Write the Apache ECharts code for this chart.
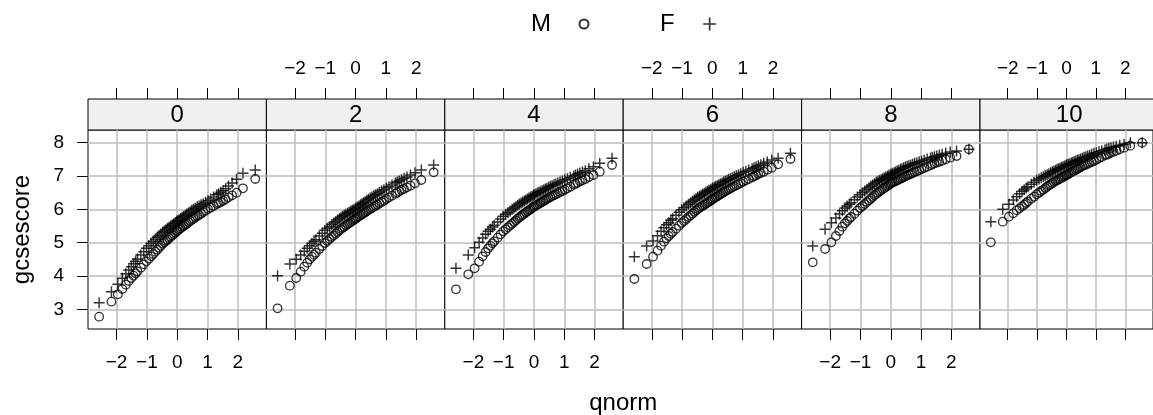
<!DOCTYPE html>
<html>
<head>
<meta charset="utf-8">
<title>gcsescore by score</title>
<script src="https://cdn.jsdelivr.net/npm/echarts@6/dist/echarts.min.js"></script>
<style>
html, body { margin: 0; padding: 0; background: #fff; }
#main { width: 1153px; height: 415px; }
</style>
</head>
<body>
<div id="main"></div>
<script>
// panels (score) and theoretical quantiles shared by every group
var scores = ['0', '2', '4', '6', '8', '10'];
var qnorm = [-2.576,-2.170,-1.960, -1.812,-1.695,-1.598,-1.514, -1.440,-1.372,-1.311,-1.200,-1.103,-1.015,
             -0.935,-0.860,-0.789,-0.722,-0.659,-0.598,-0.539, -0.482,-0.426,-0.372,-0.319,-0.266,-0.215,-0.164,-0.113,-0.063,-0.013,
             0.013,0.063,0.113,0.164,0.215,0.266,0.319,0.372,0.426,0.482, 0.539,0.598,0.659,0.722,0.789,0.860,0.935,
             1.015,1.103,1.200,1.311,1.372,1.440, 1.514,1.598,1.695,1.812, 1.960,2.170,2.576];
var xTicks = [-2, -1, 0, 1, 2];
var yTicks = [3, 4, 5, 6, 7, 8];

// gcsescore quantiles
var male0 = [2.78,3.23,3.45, 3.61,3.74,3.85,3.94, 4.01,4.08,4.14,4.25,4.35,4.44, 4.52,4.59,4.66,4.73,4.79,4.85,4.91, 4.97,5.01,5.05,5.09,5.14,5.18,5.22,5.26,5.30,5.34, 5.36,5.40,5.43,5.47,5.50,5.54,5.57,5.61,5.65,5.69, 5.72,5.76,5.80,5.83,5.87,5.92,5.96, 6.01,6.05,6.10,6.16,6.19,6.22, 6.26,6.30,6.36,6.42, 6.50,6.63,6.91];
var female0 = [3.20,3.53,3.75, 3.93,4.07,4.18,4.28, 4.37,4.44,4.51,4.63,4.73,4.83, 4.91,4.98,5.04,5.10,5.16,5.21,5.26, 5.31,5.35,5.39,5.43,5.46,5.50,5.53,5.57,5.60,5.64, 5.66,5.69,5.73,5.76,5.79,5.82,5.86,5.89,5.93,5.97, 6.00,6.03,6.07,6.10,6.14,6.17,6.21, 6.26,6.31,6.37,6.44,6.47,6.51, 6.56,6.62,6.70,6.79, 6.90,7.08,7.18];
var male2 = [3.03,3.71,3.94, 4.13,4.28,4.40,4.50, 4.58,4.64,4.70,4.81,4.90,4.99, 5.05,5.11,5.17,5.22,5.27,5.32,5.37, 5.41,5.45,5.48,5.52,5.55,5.58,5.61,5.65,5.68,5.71, 5.73,5.76,5.79,5.82,5.85,5.88,5.91,5.94,5.98,6.01, 6.04,6.08,6.11,6.14,6.18,6.22,6.26, 6.31,6.36,6.41,6.47,6.50,6.54, 6.58,6.61,6.66,6.71, 6.78,6.88,7.11];
var female2 = [4.01,4.36,4.50, 4.63,4.74,4.83,4.91, 4.98,5.04,5.09,5.20,5.28,5.37, 5.43,5.48,5.54,5.59,5.63,5.68,5.72, 5.76,5.79,5.82,5.85,5.88,5.91,5.94,5.97,5.99,6.02, 6.04,6.07,6.10,6.14,6.17,6.20,6.23,6.27,6.30,6.34, 6.37,6.41,6.44,6.47,6.51,6.55,6.59, 6.64,6.68,6.73,6.79,6.82,6.85, 6.89,6.93,6.97,7.03, 7.10,7.18,7.33];
var male4 = [3.60,4.05,4.23, 4.43,4.59,4.72,4.83, 4.91,4.98,5.04,5.15,5.25,5.34, 5.40,5.46,5.52,5.57,5.62,5.67,5.72, 5.76,5.80,5.84,5.87,5.91,5.94,5.97,6.00,6.04,6.07, 6.09,6.12,6.14,6.17,6.20,6.22,6.25,6.28,6.31,6.34, 6.37,6.40,6.42,6.45,6.48,6.52,6.55, 6.59,6.63,6.68,6.74,6.77,6.80, 6.84,6.87,6.91,6.97, 7.03,7.13,7.33];
var female4 = [4.23,4.63,4.85, 5.01,5.14,5.25,5.34, 5.40,5.47,5.52,5.62,5.71,5.79, 5.85,5.90,5.95,6.00,6.04,6.08,6.12, 6.16,6.19,6.22,6.25,6.28,6.31,6.34,6.37,6.39,6.42, 6.44,6.46,6.49,6.51,6.53,6.56,6.58,6.61,6.63,6.66, 6.69,6.71,6.74,6.76,6.79,6.82,6.85, 6.89,6.92,6.96,7.00,7.03,7.06, 7.09,7.12,7.16,7.22, 7.28,7.38,7.53];
var male6 = [3.91,4.36,4.58, 4.76,4.91,5.03,5.13, 5.20,5.27,5.32,5.42,5.51,5.59, 5.65,5.71,5.77,5.82,5.87,5.92,5.97, 6.01,6.05,6.08,6.11,6.14,6.17,6.20,6.23,6.26,6.29, 6.31,6.34,6.36,6.39,6.42,6.45,6.48,6.51,6.54,6.57, 6.60,6.63,6.66,6.69,6.72,6.75,6.79, 6.83,6.87,6.91,6.96,6.99,7.02, 7.06,7.09,7.13,7.19, 7.25,7.35,7.51];
var female6 = [4.58,4.90,5.05, 5.21,5.34,5.45,5.54, 5.60,5.67,5.72,5.82,5.91,5.99, 6.05,6.10,6.15,6.20,6.24,6.28,6.32, 6.36,6.39,6.42,6.45,6.48,6.51,6.54,6.57,6.59,6.62, 6.64,6.66,6.69,6.71,6.74,6.76,6.79,6.82,6.84,6.87, 6.90,6.92,6.95,6.98,7.01,7.04,7.07, 7.11,7.14,7.18,7.22,7.25,7.28, 7.31,7.34,7.38,7.42, 7.48,7.53,7.68];
var male8 = [4.41,4.81,5.01, 5.20,5.35,5.48,5.58, 5.65,5.72,5.77,5.87,5.96,6.04, 6.10,6.16,6.22,6.27,6.32,6.37,6.42, 6.46,6.50,6.54,6.57,6.61,6.64,6.67,6.70,6.74,6.77, 6.79,6.81,6.83,6.85,6.87,6.90,6.92,6.94,6.97,6.99, 7.02,7.04,7.06,7.09,7.12,7.14,7.17, 7.21,7.24,7.28,7.32,7.35,7.38, 7.40,7.43,7.46,7.50, 7.55,7.60,7.80];
var female8 = [4.90,5.40,5.60, 5.74,5.86,5.96,6.04, 6.10,6.15,6.20,6.29,6.37,6.44, 6.50,6.55,6.60,6.65,6.69,6.73,6.77, 6.81,6.84,6.87,6.89,6.92,6.94,6.97,6.99,7.02,7.04, 7.06,7.08,7.10,7.13,7.15,7.17,7.20,7.22,7.25,7.27, 7.29,7.31,7.33,7.35,7.38,7.40,7.43, 7.45,7.48,7.51,7.54,7.56,7.58, 7.60,7.63,7.65,7.68, 7.72,7.75,7.80];
var male10 = [5.01,5.63,5.78, 5.88,5.97,6.03,6.09, 6.14,6.19,6.24,6.32,6.38,6.45, 6.50,6.55,6.59,6.64,6.68,6.72,6.75, 6.79,6.82,6.85,6.87,6.90,6.92,6.95,6.97,7.00,7.02, 7.04,7.06,7.09,7.11,7.14,7.16,7.19,7.21,7.24,7.27, 7.30,7.32,7.34,7.37,7.40,7.42,7.45, 7.49,7.53,7.57,7.62,7.64,7.67, 7.70,7.73,7.76,7.80, 7.85,7.91,8.00];
var female10 = [5.63,6.00,6.15, 6.28,6.38,6.47,6.54, 6.59,6.64,6.68,6.75,6.81,6.87, 6.91,6.95,6.98,7.01,7.04,7.07,7.10, 7.13,7.15,7.17,7.20,7.22,7.24,7.26,7.28,7.30,7.32, 7.34,7.35,7.37,7.39,7.41,7.43,7.45,7.47,7.49,7.51, 7.53,7.56,7.58,7.60,7.62,7.65,7.68, 7.70,7.73,7.76,7.79,7.81,7.83, 7.85,7.87,7.89,7.92, 7.95,8.00,8.00];

var males = [male0, male2, male4, male6, male8, male10];
var females = [female0, female2, female4, female6, female8, female10];

var font = '"Liberation Sans", Arial, Helvetica, sans-serif';
var left0 = 88, panelW = 178.4, top0 = 130, panelH = 199, stripH = 31;
var plusPath = 'path://M8.7,0h2.6v8.7h8.7v2.6h-8.7v8.7h-2.6v-8.7h-8.7v-2.6h8.7z';

function minus(v) { return String(v).replace('-', '\u2212'); }
function pairs(ys) { return ys.map(function (y, i) { return [qnorm[i], y]; }); }

var grids = [], xAxes = [], yAxes = [], series = [], graphics = [];

scores.forEach(function (s, i) {
    var l = left0 + i * panelW;
    grids.push({
        left: l, top: top0, width: panelW, height: panelH,
        show: true, borderColor: '#000', borderWidth: 1, backgroundColor: '#fff'
    });
    // bottom axis (labels on panels 1, 3, 5)
    xAxes.push({
        type: 'value', gridIndex: i, position: 'bottom', min: -2.944, max: 2.944,
        axisLine: {show: false, onZero: false},
        axisTick: {show: true, inside: false, length: 11, customValues: xTicks, lineStyle: {color: '#000'}},
        axisLabel: {show: i % 2 === 0, customValues: xTicks, margin: 24, fontSize: 19, color: '#000', fontFamily: font, formatter: minus},
        splitLine: {show: true, lineStyle: {color: '#bdbdbd', width: 1.5}}
    });
    // top axis, above the strip (labels on panels 2, 4, 6)
    xAxes.push({
        type: 'value', gridIndex: i, position: 'top', offset: stripH, min: -2.944, max: 2.944,
        axisLine: {show: false, onZero: false},
        axisTick: {show: true, inside: false, length: 11, customValues: xTicks, lineStyle: {color: '#000'}},
        axisLabel: {show: i % 2 === 1, customValues: xTicks, margin: 21, fontSize: 19, color: '#000', fontFamily: font, formatter: minus},
        splitLine: {show: false}
    });
    yAxes.push({
        type: 'value', gridIndex: i, position: i === 5 ? 'right' : 'left', min: 2.41, max: 8.38,
        name: i === 0 ? 'gcsescore' : '', nameLocation: 'middle', nameGap: 54,
        nameTextStyle: {fontSize: 24, color: '#000', fontFamily: font},
        axisLine: {show: false, onZero: false},
        axisTick: {show: i === 0 || i === 5, inside: false, length: 11, customValues: yTicks, lineStyle: {color: '#000'}},
        axisLabel: {show: i === 0, customValues: yTicks, margin: 24, fontSize: 19, color: '#000', fontFamily: font},
        splitLine: {show: true, lineStyle: {color: '#bdbdbd', width: 1.5}}
    });
    series.push({
        name: 'M', type: 'scatter', xAxisIndex: 2 * i, yAxisIndex: i, data: pairs(males[i]),
        symbol: 'circle', symbolSize: 8.5,
        itemStyle: {color: 'rgba(0,0,0,0)', borderColor: '#000', borderWidth: 1.3},
        emphasis: {disabled: true}
    });
    series.push({
        name: 'F', type: 'scatter', xAxisIndex: 2 * i, yAxisIndex: i, data: pairs(females[i]),
        symbol: plusPath, symbolSize: 11,
        itemStyle: {color: '#000'},
        emphasis: {disabled: true}
    });
    // strip with the score
    graphics.push({
        type: 'rect', silent: true,
        shape: {x: l, y: top0 - stripH, width: panelW, height: stripH},
        style: {fill: '#f0f0f0', stroke: '#000', lineWidth: 1}
    });
    graphics.push({
        type: 'text', silent: true, x: l + panelW / 2, y: top0 - stripH / 2 + 1,
        style: {text: s, fill: '#000', font: '24px ' + font, align: 'center', verticalAlign: 'middle'}
    });
});

graphics.push({
    type: 'text', silent: true, x: left0 + 3 * panelW, y: 403,
    style: {text: 'qnorm', fill: '#000', font: '24px ' + font, align: 'center', verticalAlign: 'middle'}
});

var legendText = {fontSize: 24, color: '#000', fontFamily: font};
var option = {
    animation: false,
    backgroundColor: '#fff',
    legend: [
        {data: ['M'], left: 531, top: 12, align: 'right', padding: 0, itemWidth: 56, itemHeight: 9, selectedMode: false, textStyle: legendText},
        {data: ['F'], left: 660, top: 12, align: 'right', padding: 0, itemWidth: 60, itemHeight: 13, selectedMode: false, textStyle: legendText}
    ],
    grid: grids,
    xAxis: xAxes,
    yAxis: yAxes,
    series: series,
    graphic: graphics
};

var myChart = echarts.init(document.getElementById('main'), null, {renderer: 'canvas'});
myChart.setOption(option);
</script>
</body>
</html>
